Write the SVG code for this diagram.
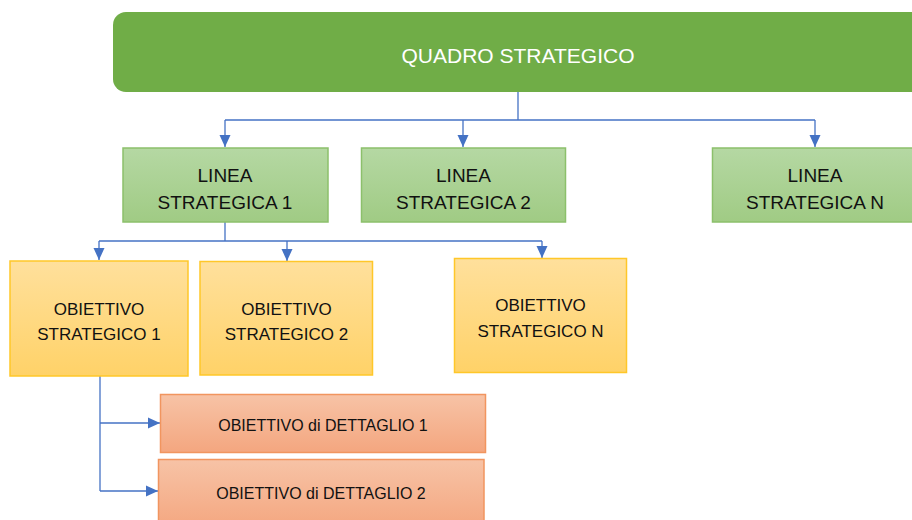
<svg xmlns="http://www.w3.org/2000/svg" width="912" height="520" viewBox="0 0 912 520">
<defs>
<linearGradient id="gGreen" x1="0" y1="0" x2="0" y2="1"><stop offset="0" stop-color="#B5D8A3"/><stop offset="1" stop-color="#A0CB84"/></linearGradient>
<linearGradient id="gYellow" x1="0" y1="0" x2="0" y2="1"><stop offset="0" stop-color="#FFE09C"/><stop offset="1" stop-color="#FFD268"/></linearGradient>
<linearGradient id="gSalmon" x1="0" y1="0" x2="0" y2="1"><stop offset="0" stop-color="#F7C3A6"/><stop offset="1" stop-color="#F4A67F"/></linearGradient>
<marker id="arr" viewBox="0 0 12 12" refX="12" refY="6" markerWidth="12" markerHeight="12" markerUnits="userSpaceOnUse" orient="auto"><path d="M0,0.5 L12,6 L0,11.5 Z" fill="#4472C4"/></marker>
</defs>
<style>
.t{font-family:"Liberation Sans",Arial,sans-serif;fill:#111;text-anchor:middle}
.g{fill:url(#gGreen);stroke:#8CC06B;stroke-width:1.5}
.y{fill:url(#gYellow);stroke:#FFC729;stroke-width:1.5}
.s{fill:url(#gSalmon);stroke:#F1955F;stroke-width:1.5}
.c{fill:none;stroke:#4472C4;stroke-width:1.3}
</style>
<g id="connectors">
<path class="c" d="M518,92 V120"/>
<path class="c" d="M225,120 H815"/>
<path class="c" d="M225,120 V147" marker-end="url(#arr)"/>
<path class="c" d="M463,120 V147" marker-end="url(#arr)"/>
<path class="c" d="M815,120 V147" marker-end="url(#arr)"/>
<path class="c" d="M225,222 V241"/>
<path class="c" d="M99,241 H542"/>
<path class="c" d="M99,241 V260" marker-end="url(#arr)"/>
<path class="c" d="M287,241 V261" marker-end="url(#arr)"/>
<path class="c" d="M542,241 V258" marker-end="url(#arr)"/>
<path class="c" d="M100,376 V491"/>
<path class="c" d="M100,423 H160" marker-end="url(#arr)"/>
<path class="c" d="M100,491 H158" marker-end="url(#arr)"/>
</g>
<g id="quadro">
<rect x="113" y="12" width="820" height="80" rx="13" fill="#70AD47"/>
<text class="t" x="518" y="63" font-size="21" style="fill:#fff">QUADRO STRATEGICO</text>
</g>
<g id="linea1">
<rect class="g" x="123" y="148" width="205" height="74"/>
<text class="t" x="225" y="182" font-size="19">LINEA</text>
<text class="t" x="225" y="209" font-size="19">STRATEGICA 1</text>
</g>
<g id="linea2">
<rect class="g" x="361.5" y="148" width="204" height="74"/>
<text class="t" x="463.5" y="182" font-size="19">LINEA</text>
<text class="t" x="463.5" y="209" font-size="19">STRATEGICA 2</text>
</g>
<g id="lineaN">
<rect class="g" x="712.5" y="148" width="210" height="74"/>
<text class="t" x="815" y="182" font-size="19">LINEA</text>
<text class="t" x="815" y="209" font-size="19">STRATEGICA N</text>
</g>
<g id="obiettivo1">
<rect class="y" x="10" y="261" width="178" height="115"/>
<text class="t" x="99" y="315" font-size="17">OBIETTIVO</text>
<text class="t" x="99" y="340" font-size="17">STRATEGICO 1</text>
</g>
<g id="obiettivo2">
<rect class="y" x="200" y="261.5" width="172.5" height="113.5"/>
<text class="t" x="286.5" y="315" font-size="17">OBIETTIVO</text>
<text class="t" x="286.5" y="340" font-size="17">STRATEGICO 2</text>
</g>
<g id="obiettivoN">
<rect class="y" x="454.5" y="258.5" width="172" height="114"/>
<text class="t" x="540.5" y="311" font-size="17">OBIETTIVO</text>
<text class="t" x="540.5" y="337" font-size="17">STRATEGICO N</text>
</g>
<g id="dettaglio1">
<rect class="s" x="160.5" y="394.5" width="325" height="58"/>
<text class="t" x="323" y="431" font-size="16">OBIETTIVO di DETTAGLIO 1</text>
</g>
<g id="dettaglio2">
<rect class="s" x="158.5" y="459.5" width="325.5" height="70"/>
<text class="t" x="321" y="499" font-size="16">OBIETTIVO di DETTAGLIO 2</text>
</g>
</svg>
